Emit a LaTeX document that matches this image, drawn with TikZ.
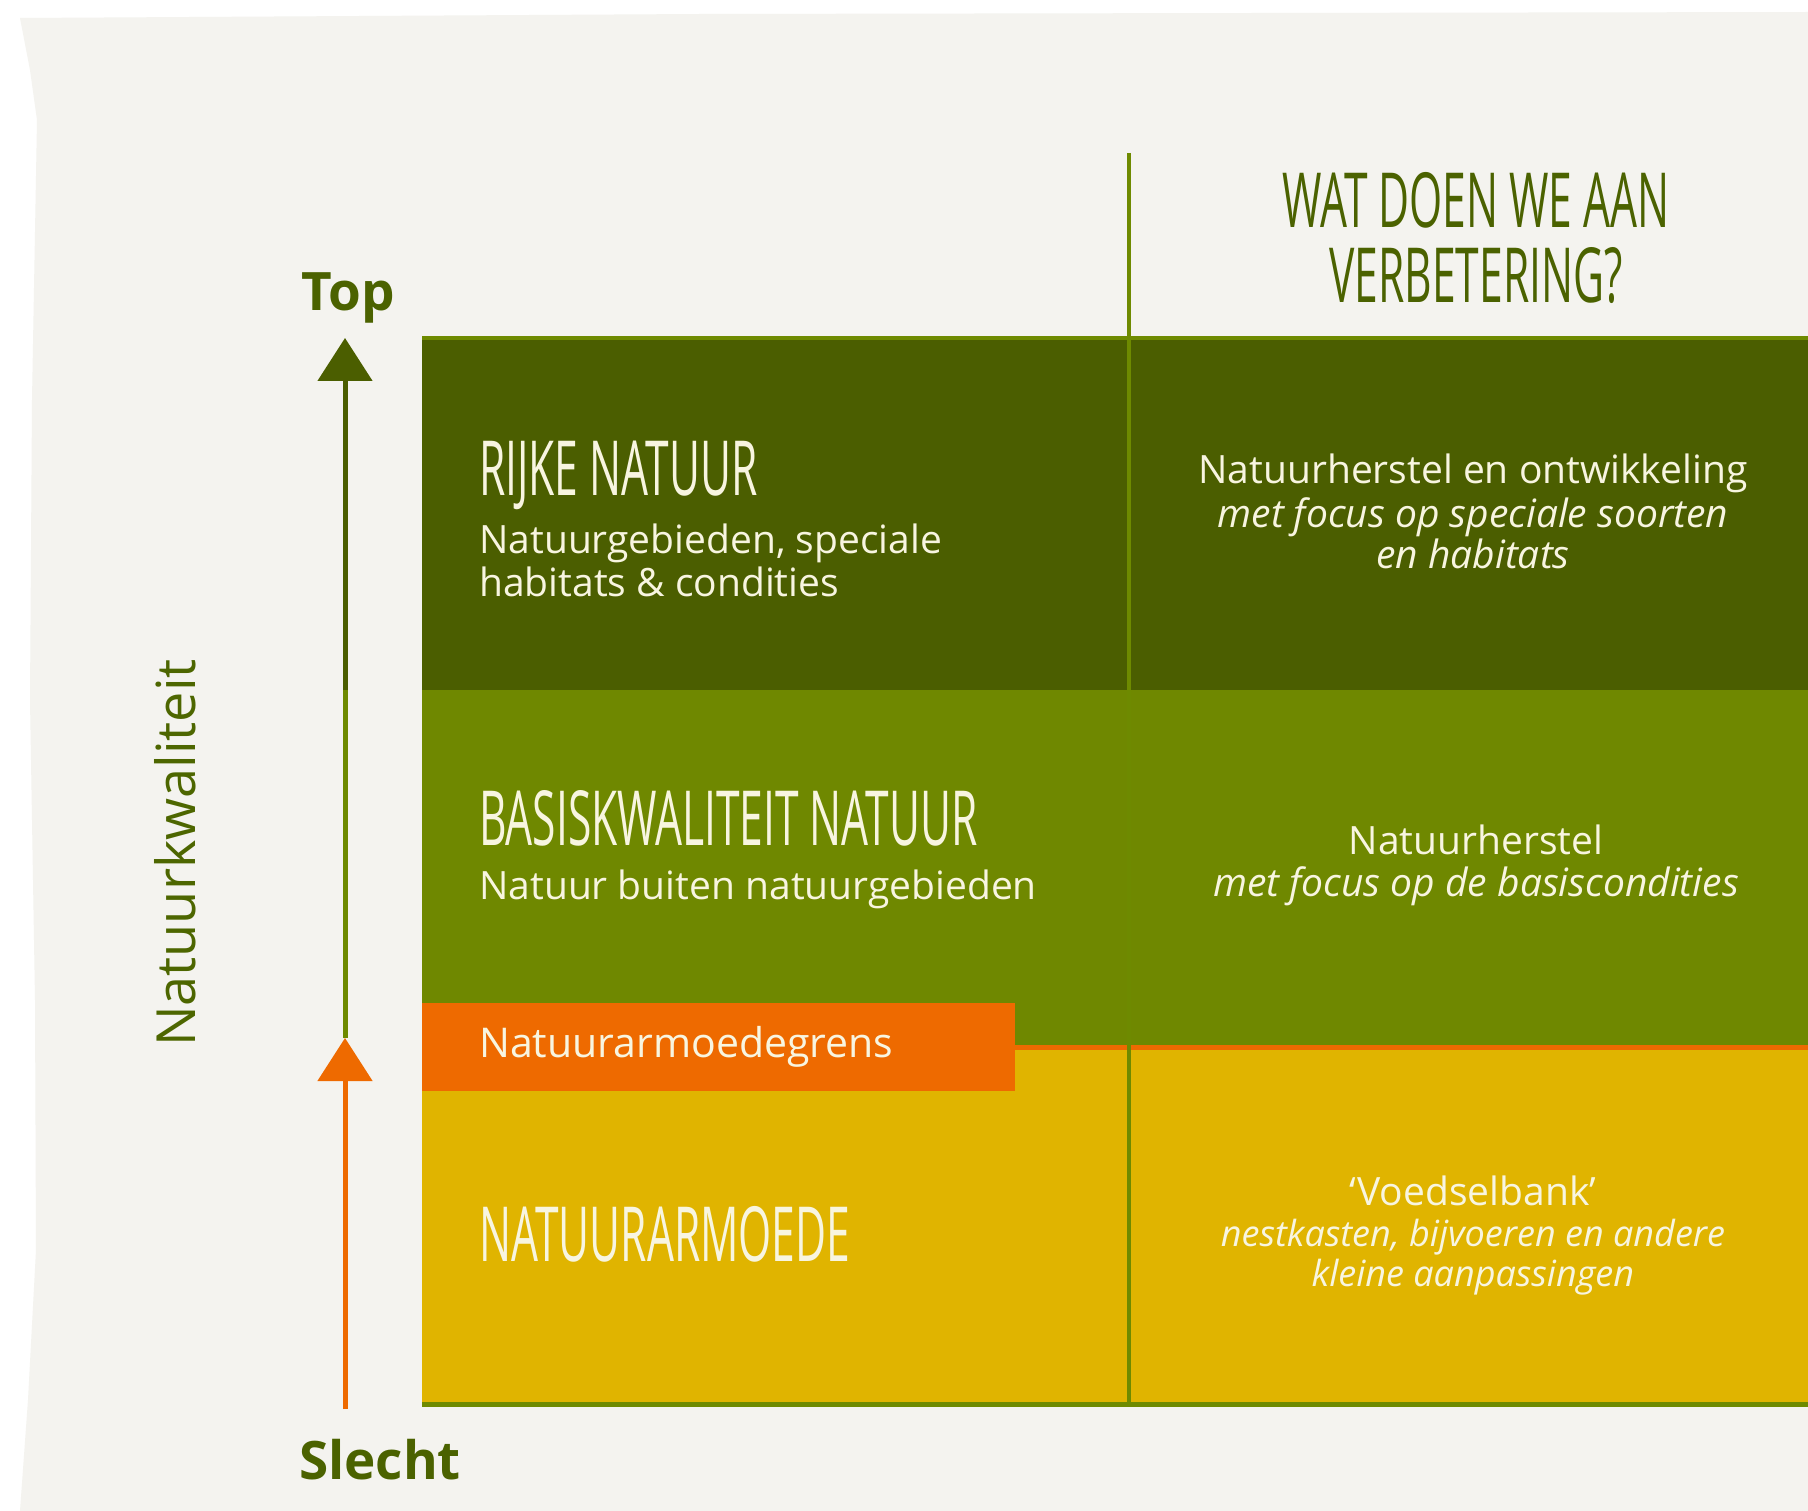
\documentclass[tikz,border=0pt]{standalone}
\usepackage{fontspec}
\setmainfont{Open Sans}
\newfontfamily\headfont[FakeStretch=0.56]{Open Sans}
\usetikzlibrary{arrows.meta}
\definecolor{bg}{HTML}{F4F3EF}
\definecolor{darkband}{HTML}{4B5E00}
\definecolor{midband}{HTML}{6F8800}
\definecolor{yellowband}{HTML}{E0B400}
\definecolor{orangec}{HTML}{EE6A00}
\definecolor{linegreen}{HTML}{6E8A00}
\definecolor{cream}{HTML}{F8F5E0}
\definecolor{textgreen}{HTML}{4B6200}
\definecolor{axisgreen}{HTML}{4D6600}
\tikzset{
  rule/.style={draw=linegreen, line width=4pt},
  headtxt/.style={font=\headfont\fontsize{76}{80}\selectfont, text=cream, inner sep=0pt, anchor=base west},
  bodytxt/.style={font=\fontsize{39}{43}\selectfont, text=cream, inner sep=0pt, anchor=base west},
  righttxt/.style={font=\fontsize{39}{43}\selectfont, text=cream, inner sep=0pt, anchor=base},
  rightit/.style={font=\fontsize{39}{43}\selectfont\itshape, text=cream, inner sep=0pt, anchor=base},
  smallit/.style={font=\fontsize{36}{40}\selectfont\itshape, text=cream, inner sep=0pt, anchor=base},
  axislabel/.style={font=\fontsize{53}{58}\selectfont\bfseries, text=textgreen, inner sep=0pt, anchor=base},
  tipbig/.style={-{Triangle[width=54pt,length=43pt]}},
}
\begin{document}
\begin{tikzpicture}[x=1pt,y=-1pt]
\useasboundingbox (0,0) rectangle (1808,1511);
\fill[white] (0,0) rectangle (1808,1511);
\fill[bg] (20,18) -- (700,14) -- (1808,12) -- (1808,1511) -- (20,1511) -- (28,1400) -- (36,1250) -- (35,1000) -- (30,700) -- (32,400) -- (37,120) -- (30,70) -- cycle;

% bands
\fill[darkband] (422,338) rectangle (1808,690);
\fill[midband] (422,690) rectangle (1808,1047);
\fill[yellowband] (422,1047) rectangle (1808,1404);
\draw[orangec, line width=5pt] (1015,1047) -- (1808,1047);

% rules
\draw[rule] (422,338) -- (1808,338);
\draw[rule, line width=5pt] (422,1404) -- (1808,1404);
\draw[rule] (1129,153) -- (1129,1404);

% orange label box
\node[fill=orangec, anchor=north west, minimum width=593pt, minimum height=88pt, inner xsep=57pt, inner ysep=0pt, text width=479pt, align=left, text=cream, font=\fontsize{41}{45}\selectfont] (grens) at (422,1003) {Natuurarmoedegrens};

% axis
\coordinate (bot) at (345,1409);
\coordinate (midtip) at (345,1038);
\coordinate (switch) at (345,690);
\coordinate (toptip) at (345,338);
\draw[orangec, line width=5pt, tipbig] (bot) -- (midtip);
\draw[linegreen, line width=5pt] (midtip) -- (switch);
\draw[darkband, line width=5pt, tipbig] (switch) -- (toptip);

\node[axislabel] (top) at (348,311) {Top};
\node[axislabel] (slecht) at (380,1479) {Slecht};
\node[font=\fontsize{54}{58}\selectfont, text=axisgreen, rotate=90, inner sep=0pt] (kw) at (175,853) {Natuurkwaliteit};

% heading right
\node[headtxt, anchor=base, text=textgreen] (h1) at (1476,228) {WAT DOEN WE AAN};
\node[headtxt, anchor=base, text=textgreen] (h2) at (1476,303) {VERBETERING?};

% left texts
\node[headtxt] (rijk) at (479,496) {RIJKE NATUUR};
\node[bodytxt] (rijk1) at (479,553) {Natuurgebieden, speciale};
\node[bodytxt] (rijk2) at (479,596) {habitats \& condities};

\node[headtxt] (basis) at (479,845) {BASISKWALITEIT NATUUR};
\node[bodytxt] (basis1) at (479,899) {Natuur buiten natuurgebieden};

\node[headtxt] (arm) at (479,1261) {NATUURARMOEDE};

% right texts
\node[righttxt] (r1) at (1473,484) {Natuurherstel en ontwikkeling};
\node[rightit] (r2) at (1473,527) {met focus op speciale soorten};
\node[rightit] (r3) at (1473,568) {en habitats};

\node[righttxt] (m1) at (1476,854) {Natuurherstel};
\node[rightit] (m2) at (1476,896) {met focus op de basiscondities};

\node[righttxt] (y1) at (1473,1205) {‘Voedselbank’};
\node[smallit] (y2) at (1473,1246) {nestkasten, bijvoeren en andere};
\node[smallit] (y3) at (1473,1286) {kleine aanpassingen};
\end{tikzpicture}
\end{document}
